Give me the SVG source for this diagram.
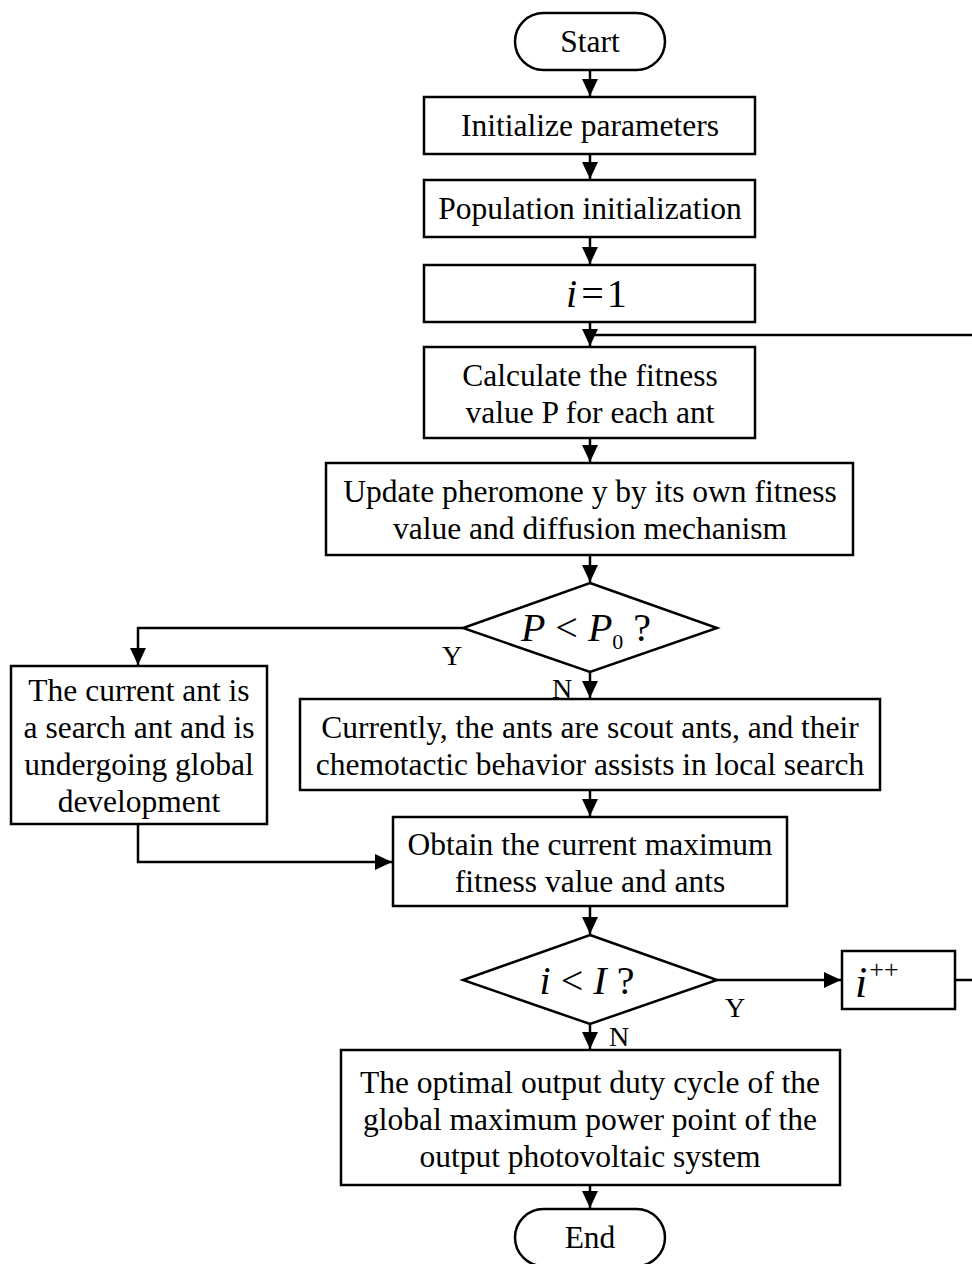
<svg xmlns="http://www.w3.org/2000/svg" width="972" height="1264" viewBox="0 0 972 1264">
<style>
.n{fill:#fff;stroke:#000;stroke-width:2.5}
.t{font-family:"Liberation Serif","Times New Roman",serif;font-size:31.5px;fill:#000;text-anchor:middle}
.m{font-family:"Liberation Serif","Times New Roman",serif;font-size:40px;fill:#000;text-anchor:middle}
.s{font-family:"Liberation Serif","Times New Roman",serif;font-size:40px;fill:#000;text-anchor:start}
.l{font-family:"Liberation Serif","Times New Roman",serif;font-size:28px;fill:#000;text-anchor:middle}
.c{fill:none;stroke:#000;stroke-width:2.5}
</style>
<defs>
<marker id="a" markerUnits="userSpaceOnUse" markerWidth="18" markerHeight="18" refX="17" refY="9" orient="auto">
<path d="M0,1 L17,9 L0,17 Z" fill="#000"/>
</marker>
</defs>
<rect width="972" height="1264" fill="#fff"/>
<g id="connectors">
<path class="c" d="M590,70 V96" marker-end="url(#a)"/>
<path class="c" d="M590,154 V179" marker-end="url(#a)"/>
<path class="c" d="M590,237 V264" marker-end="url(#a)"/>
<path class="c" d="M590,322 V346" marker-end="url(#a)"/>
<path class="c" d="M955,980 H985 V335 H590"/>
<path class="c" d="M590,438 V462" marker-end="url(#a)"/>
<path class="c" d="M590,555 V582" marker-end="url(#a)"/>
<path class="c" d="M463,628 H138 V665" marker-end="url(#a)"/>
<path class="c" d="M590,672 V698" marker-end="url(#a)"/>
<path class="c" d="M138,824 V862 H392" marker-end="url(#a)"/>
<path class="c" d="M590,790 V816" marker-end="url(#a)"/>
<path class="c" d="M590,906 V934" marker-end="url(#a)"/>
<path class="c" d="M717,980 H841" marker-end="url(#a)"/>
<path class="c" d="M590,1024 V1049" marker-end="url(#a)"/>
<path class="c" d="M590,1185 V1208" marker-end="url(#a)"/>
<text class="l" x="452" y="665">Y</text>
<text class="l" x="562" y="698">N</text>
<text class="l" x="735" y="1017">Y</text>
<text class="l" x="619" y="1046">N</text>
</g>
<g id="start">
<rect class="n" x="515" y="13" width="150" height="57" rx="28.5"/>
<text class="t" x="590" y="52">Start</text>
</g>
<g id="init-params">
<rect class="n" x="424" y="97" width="331" height="57"/>
<text class="t" x="590" y="136">Initialize parameters</text>
</g>
<g id="pop-init">
<rect class="n" x="424" y="180" width="331" height="57"/>
<text class="t" x="590" y="219">Population initialization</text>
</g>
<g id="i-eq-1">
<rect class="n" x="424" y="265" width="331" height="57"/>
<text class="s" x="566" y="307"><tspan font-style="italic">i</tspan><tspan dx="4">=</tspan><tspan dx="3">1</tspan></text>
</g>
<g id="calc-fitness">
<rect class="n" x="424" y="347" width="331" height="91"/>
<text class="t" x="590" y="386">Calculate the fitness</text>
<text class="t" x="590" y="423">value P for each ant</text>
</g>
<g id="update-pheromone">
<rect class="n" x="326" y="463" width="527" height="92"/>
<text class="t" x="590" y="502">Update pheromone y by its own fitness</text>
<text class="t" x="590" y="539">value and diffusion mechanism</text>
</g>
<g id="decision-p">
<polygon class="n" points="590,583 717,628 590,672 463,628"/>
<text class="m" x="586" y="641"><tspan font-style="italic">P</tspan> &lt; <tspan font-style="italic">P</tspan><tspan font-size="22" dy="8">0</tspan><tspan dy="-8"> ?</tspan></text>
</g>
<g id="search-ant">
<rect class="n" x="11" y="666" width="256" height="158"/>
<text class="t" x="139" y="701">The current ant is</text>
<text class="t" x="139" y="738">a search ant and is</text>
<text class="t" x="139" y="775">undergoing global</text>
<text class="t" x="139" y="812">development</text>
</g>
<g id="scout-ant">
<rect class="n" x="300" y="699" width="580" height="91"/>
<text class="t" x="590" y="738">Currently, the ants are scout ants, and their</text>
<text class="t" x="590" y="775">chemotactic behavior assists in local search</text>
</g>
<g id="obtain-max">
<rect class="n" x="393" y="817" width="394" height="89"/>
<text class="t" x="590" y="855">Obtain the current maximum</text>
<text class="t" x="590" y="892">fitness value and ants</text>
</g>
<g id="decision-i">
<polygon class="n" points="590,935 717,980 590,1024 463,980"/>
<text class="m" x="587" y="994"><tspan font-style="italic">i</tspan> &lt; <tspan font-style="italic">I</tspan> ?</text>
</g>
<g id="i-plus">
<rect class="n" x="842" y="951" width="113" height="58"/>
<text class="s" x="855" y="997"><tspan font-style="italic" font-size="44">i</tspan><tspan font-size="26" dx="2" dy="-19">++</tspan></text>
</g>
<g id="optimal-output">
<rect class="n" x="341" y="1050" width="499" height="135"/>
<text class="t" x="590" y="1093">The optimal output duty cycle of the</text>
<text class="t" x="590" y="1130">global maximum power point of the</text>
<text class="t" x="590" y="1167">output photovoltaic system</text>
</g>
<g id="end">
<rect class="n" x="515" y="1209" width="150" height="57" rx="28.5"/>
<text class="t" x="590" y="1248">End</text>
</g>
</svg>
